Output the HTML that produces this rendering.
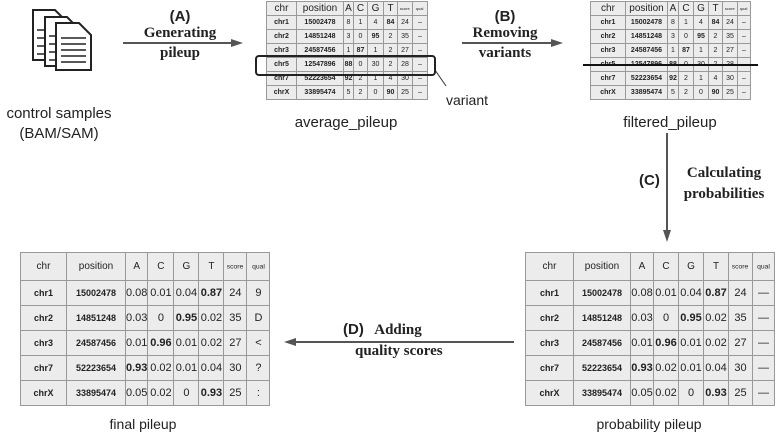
<!DOCTYPE html>
<html><head><meta charset="utf-8"><style>
body{margin:0;width:779px;height:435px;background:#fff;position:relative;overflow:hidden;font-family:"Liberation Sans",Arial,sans-serif;color:#222}
table{position:absolute;border-collapse:collapse;table-layout:fixed}
td{border:1px solid #999;background:#ececec;text-align:center;padding:0;overflow:hidden;white-space:nowrap}
.s td{font-size:7px;height:13px;line-height:13px}
.s tr:first-child td{font-size:10px}
.s td.b{font-weight:bold}
.l td{font-size:11px;height:24px}
.l tr:first-child td{font-size:10px;height:27px}
.l td.b{font-weight:bold}
.l td.n{font-weight:bold;font-size:9px}
.tiny{display:inline-block;transform:scale(0.5);transform-origin:center;font-size:8px;margin:0 -20px}
.tiny2{display:inline-block;transform:scale(0.75);font-size:9px;margin:0 -20px}
.t{position:absolute;white-space:nowrap}
.serif{font-family:"Liberation Serif",serif;font-weight:bold;font-size:15px;text-align:center}
.cap{font-size:15px;text-align:center}
</style></head><body>

<svg style="position:absolute;left:0;top:0" width="779" height="435">
 <g fill="#fff" stroke="#222" stroke-width="2">
  <path d="M33 10 H55 L62 17 V60 H33 Z"/>
  <path d="M45 17 H67 L74 24 V66 H45 Z"/>
  <path d="M56 23 H79 L91 35 V70 H56 Z"/>
 </g>
 <g stroke="#222" stroke-width="1.5">
  <line x1="37" y1="30" x2="45" y2="30"/><line x1="37" y1="38" x2="45" y2="38"/><line x1="37" y1="46" x2="45" y2="46"/><line x1="37" y1="54" x2="45" y2="54"/>
  <line x1="49" y1="36" x2="56" y2="36"/><line x1="49" y1="44" x2="56" y2="44"/><line x1="49" y1="52" x2="56" y2="52"/><line x1="49" y1="60" x2="56" y2="60"/>
  <line x1="61" y1="38" x2="86" y2="38"/><line x1="61" y1="44" x2="86" y2="44"/><line x1="61" y1="50" x2="86" y2="50"/><line x1="61" y1="56" x2="86" y2="56"/><line x1="61" y1="62" x2="86" y2="62"/>
 </g>
 <g stroke="#555" stroke-width="2" fill="#555">
  <line x1="123" y1="43" x2="232" y2="43"/><path d="M243 43 L231 39 L231 47 Z" stroke="none"/>
  <line x1="462" y1="43" x2="552" y2="43"/><path d="M563 43 L551 39 L551 47 Z" stroke="none"/>
  <line x1="667" y1="133" x2="667" y2="230"/><path d="M667 242 L663 230 L671 230 Z" stroke="none"/>
  <line x1="514" y1="342" x2="296" y2="342"/><path d="M284 342 L296 338 L296 346 Z" stroke="none"/>
 </g>
 <line x1="435" y1="70" x2="446" y2="86" stroke="#333" stroke-width="1"/>
</svg>

<div class="t cap" style="left:0;width:118px;top:104px;line-height:20px">control samples<br>(BAM/SAM)</div>
<div class="t serif" style="left:130px;width:100px;top:8px;line-height:17px;font-family:'Liberation Sans',sans-serif">(A)</div>
<div class="t serif" style="left:130px;width:100px;top:23px;line-height:20px">Generating<br>pileup</div>
<div class="t serif" style="left:455px;width:100px;top:8px;line-height:17px;font-family:'Liberation Sans',sans-serif">(B)</div>
<div class="t serif" style="left:455px;width:100px;top:23px;line-height:20px">Removing<br>variants</div>
<div class="t serif" style="left:639px;top:172px;font-family:'Liberation Sans',sans-serif">(C)</div>
<div class="t serif" style="left:674px;width:100px;top:163px;line-height:21px">Calculating<br>probabilities</div>
<div class="t serif" style="left:343px;top:321px"><span style="font-family:'Liberation Sans',sans-serif">(D)</span>&nbsp;&nbsp; Adding</div>
<div class="t serif" style="left:355px;top:343px">quality scores</div>
<div class="t" style="left:446px;top:92px;font-size:14px">variant</div>
<div class="t cap" style="left:265px;width:162px;top:114px">average_pileup</div>
<div class="t cap" style="left:588px;width:164px;top:114px">filtered_pileup</div>
<div class="t cap" style="left:18px;width:250px;top:416px;font-size:14px">final pileup</div>
<div class="t cap" style="left:524px;width:250px;top:416px;font-size:14px">probability pileup</div>

<table class="s" style="left:266px;top:1px">
<colgroup><col style="width:30px"><col style="width:47px"><col style="width:10px"><col style="width:14px"><col style="width:16px"><col style="width:14px"><col style="width:15px"><col style="width:15px"></colgroup>
<tr><td>chr</td><td>position</td><td>A</td><td>C</td><td>G</td><td>T</td><td><span class="tiny">score</span></td><td><span class="tiny">qual</span></td></tr>
<tr><td class="b">chr1</td><td class="b">15002478</td><td>8</td><td>1</td><td>4</td><td class="b">84</td><td>24</td><td>–</td></tr>
<tr><td class="b">chr2</td><td class="b">14851248</td><td>3</td><td>0</td><td class="b">95</td><td>2</td><td>35</td><td>–</td></tr>
<tr><td class="b">chr3</td><td class="b">24587456</td><td>1</td><td class="b">87</td><td>1</td><td>2</td><td>27</td><td>–</td></tr>
<tr><td class="b">chr5</td><td class="b">12547896</td><td class="b">88</td><td>0</td><td>30</td><td>2</td><td>28</td><td>–</td></tr>
<tr><td class="b">chr7</td><td class="b">52223654</td><td class="b">92</td><td>2</td><td>1</td><td>4</td><td>30</td><td>–</td></tr>
<tr><td class="b">chrX</td><td class="b">33895474</td><td>5</td><td>2</td><td>0</td><td class="b">90</td><td>25</td><td>–</td></tr>
</table>
<div class="t" style="left:255px;top:55px;width:177px;height:17px;border:2px solid #222;border-radius:4px"></div>

<table class="s" style="left:590px;top:1px">
<colgroup><col style="width:35px"><col style="width:42px"><col style="width:11px"><col style="width:15px"><col style="width:15px"><col style="width:14px"><col style="width:15px"><col style="width:13px"></colgroup>
<tr><td>chr</td><td>position</td><td>A</td><td>C</td><td>G</td><td>T</td><td><span class="tiny">score</span></td><td><span class="tiny">qual</span></td></tr>
<tr><td class="b">chr1</td><td class="b">15002478</td><td>8</td><td>1</td><td>4</td><td class="b">84</td><td>24</td><td>–</td></tr>
<tr><td class="b">chr2</td><td class="b">14851248</td><td>3</td><td>0</td><td class="b">95</td><td>2</td><td>35</td><td>–</td></tr>
<tr><td class="b">chr3</td><td class="b">24587456</td><td>1</td><td class="b">87</td><td>1</td><td>2</td><td>27</td><td>–</td></tr>
<tr><td class="b">chr5</td><td class="b">12547896</td><td class="b">88</td><td>0</td><td>30</td><td>2</td><td>28</td><td></td></tr>
<tr><td class="b">chr7</td><td class="b">52223654</td><td class="b">92</td><td>2</td><td>1</td><td>4</td><td>30</td><td>–</td></tr>
<tr><td class="b">chrX</td><td class="b">33895474</td><td>5</td><td>2</td><td>0</td><td class="b">90</td><td>25</td><td>–</td></tr>
</table>
<div class="t" style="left:583px;top:64px;width:175px;height:2px;background:#111"></div>

<table class="l" style="left:20px;top:252px">
<colgroup><col style="width:46px"><col style="width:59px"><col style="width:21px"><col style="width:26px"><col style="width:25px"><col style="width:25px"><col style="width:23px"><col style="width:23px"></colgroup>
<tr><td>chr</td><td>position</td><td>A</td><td>C</td><td>G</td><td>T</td><td><span class="tiny2">score</span></td><td><span class="tiny2">qual</span></td></tr>
<tr><td class="n">chr1</td><td class="n">15002478</td><td>0.08</td><td>0.01</td><td>0.04</td><td class="b">0.87</td><td>24</td><td>9</td></tr>
<tr><td class="n">chr2</td><td class="n">14851248</td><td>0.03</td><td>0</td><td class="b">0.95</td><td>0.02</td><td>35</td><td>D</td></tr>
<tr><td class="n">chr3</td><td class="n">24587456</td><td>0.01</td><td class="b">0.96</td><td>0.01</td><td>0.02</td><td>27</td><td>&lt;</td></tr>
<tr><td class="n">chr7</td><td class="n">52223654</td><td class="b">0.93</td><td>0.02</td><td>0.01</td><td>0.04</td><td>30</td><td>?</td></tr>
<tr><td class="n">chrX</td><td class="n">33895474</td><td>0.05</td><td>0.02</td><td>0</td><td class="b">0.93</td><td>25</td><td>:</td></tr>
</table>

<table class="l" style="left:525px;top:252px">
<colgroup><col style="width:48px"><col style="width:57px"><col style="width:23px"><col style="width:25px"><col style="width:25px"><col style="width:25px"><col style="width:24px"><col style="width:22px"></colgroup>
<tr><td>chr</td><td>position</td><td>A</td><td>C</td><td>G</td><td>T</td><td><span class="tiny2">score</span></td><td><span class="tiny2">qual</span></td></tr>
<tr><td class="n">chr1</td><td class="n">15002478</td><td>0.08</td><td>0.01</td><td>0.04</td><td class="b">0.87</td><td>24</td><td>—</td></tr>
<tr><td class="n">chr2</td><td class="n">14851248</td><td>0.03</td><td>0</td><td class="b">0.95</td><td>0.02</td><td>35</td><td>—</td></tr>
<tr><td class="n">chr3</td><td class="n">24587456</td><td>0.01</td><td class="b">0.96</td><td>0.01</td><td>0.02</td><td>27</td><td>—</td></tr>
<tr><td class="n">chr7</td><td class="n">52223654</td><td class="b">0.93</td><td>0.02</td><td>0.01</td><td>0.04</td><td>30</td><td>—</td></tr>
<tr><td class="n">chrX</td><td class="n">33895474</td><td>0.05</td><td>0.02</td><td>0</td><td class="b">0.93</td><td>25</td><td>—</td></tr>
</table>
</body></html>
